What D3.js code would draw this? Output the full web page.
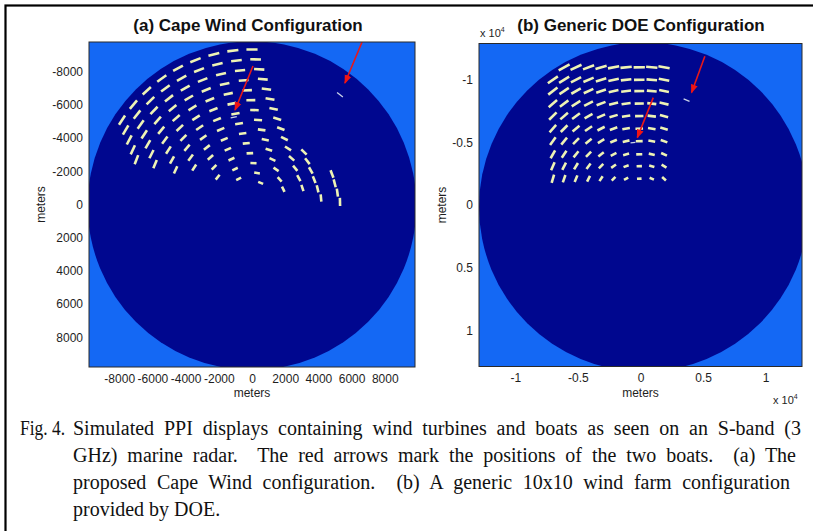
<!DOCTYPE html>
<html>
<head>
<meta charset="utf-8">
<script src="https://cdn.jsdelivr.net/npm/d3@7/dist/d3.min.js"></script>
<style>
  body { margin: 0; background: #fff; }
  svg { display: block; }
  .tick text { font-family: Arial, "Liberation Sans", sans-serif; font-size: 12px; fill: #1e1e1e; }
  .lbl { font-family: Arial, "Liberation Sans", sans-serif; font-size: 12px; fill: #1e1e1e; }
  .ttl { font-family: Arial, "Liberation Sans", sans-serif; font-size: 17px; font-weight: bold; fill: #111; }
  .cap { font-family: "Liberation Serif", "Times New Roman", serif; font-size: 20px; fill: #111; white-space: pre; }
</style>
</head>
<body>
<svg id="fig" width="813" height="531"></svg>
<script>
// all positions in meters, radar at the origin (y grows downward like the figure)
let capeTicks = [-8000, -6000, -4000, -2000, 0, 2000, 4000, 6000, 8000];
let capeRange = 9900;
let capeCenter = [0, 70];
let capeTurbines = [
  [-7831,-5085],[-7614,-4489],[-7397,-3893],[-7180,-3297],[-6963,-2701],
  [-7142,-6014],[-6925,-5418],[-6708,-4822],[-6491,-4226],[-6274,-3630],[-6057,-3034],[-5840,-2438],
  [-6338,-6856],[-6121,-6260],[-5904,-5664],[-5687,-5068],[-5470,-4472],[-5253,-3876],[-5036,-3280],[-4819,-2684],[-4602,-2088],
  [-5435,-7592],[-5218,-6996],[-5001,-6400],[-4784,-5804],[-4567,-5208],[-4350,-4612],[-4133,-4016],[-3916,-3420],[-3699,-2824],[-3482,-2228],
  [-4456,-8205],[-4239,-7609],[-4022,-7013],[-3805,-6417],[-3588,-5821],[-3371,-5225],[-3154,-4629],[-2937,-4033],[-2720,-3437],[-2503,-2841],[-2286,-2245],[-2069,-1649],
  [-3407,-8694],[-3190,-8098],[-2973,-7502],[-2756,-6906],[-2539,-6310],[-2322,-5714],[-2105,-5118],[-1888,-4522],[-1671,-3926],[-1454,-3330],[-1237,-2734],[-1020,-2138],[-803,-1542],
  [-2299,-9049],[-2082,-8453],[-1865,-7857],[-1648,-7261],[-1431,-6665],[-1214,-6069],[-997,-5473],[-780,-4877],[-563,-4281],[-346,-3685],[-129,-3089],[88,-2493],[305,-1897],[522,-1301],
  [-1154,-9265],[-937,-8669],[-720,-8073],[-503,-7477],[-286,-6881],[-69,-6285],[148,-5689],[365,-5093],[582,-4497],[799,-3901],[1016,-3305],[1233,-2709],[1450,-2113],[1667,-1517],[1884,-921],
  [0,-9337],[217,-8741],[434,-8145],[651,-7549],[868,-6953],[1085,-6357],[1302,-5761],[1519,-5165],[1736,-4569],[1953,-3973],[2170,-3377],[2387,-2781],[2604,-2185],[2821,-1589],[3038,-993],
  [3132,-3163],[3337,-2608],[3542,-2054],[3747,-1500],[3952,-946],[4157,-392],
  [4819,-1837],[4982,-1277],[5144,-717],[5301,-151]
];
let capeBoats = [[5300, -6610], [-1100, -5260]];
let capeArrows = [[[60, -8340], [-1020, -5690]], [[6630, -9790], [5600, -7320]]];

let doeTicks = [-10000, -5000, 0, 5000, 10000];
let doeRange = 13150;
let doeCenter = [250, 150];
let doeColsX = [-7000, -6100, -5150, -4150, -3150, -2150, -1150, -100, 900, 1880];
let doeRowsY = [-11000, -10000, -9100, -8100, -7100, -6100, -5100, -4050, -3100, -2100];
let doeBoats = [[3680, -8380], [-600, -4980]];
let doeArrows = [[[5140, -11880], [4080, -8980]], [[1020, -8580], [-255, -5380]]];

let captionLines = [
  "Simulated PPI displays containing wind turbines and boats as seen on an S-band (3",
  "GHz) marine radar.  The red arrows mark the positions of the two boats.  (a) The",
  "proposed Cape Wind configuration.  (b) A generic 10x10 wind farm configuration",
  "provided by DOE."
];
let captionRight = [801, 796, 790, null];

let svg = d3.select("#fig");
let darkBlue = "#00078f";
let lightBlue = "#1468f4";
let echo = "#eef3b4";

let defs = svg.append("defs");
defs.append("marker")
  .attr("id", "head")
  .attr("markerUnits", "userSpaceOnUse")
  .attr("markerWidth", 10).attr("markerHeight", 8)
  .attr("refX", 8).attr("refY", 4)
  .attr("orient", "auto")
  .append("path")
  .attr("d", "M0,0.5 L9,4 L0,7.5 Z")
  .attr("fill", "#f01414");

// outer frame of the figure (right/bottom run off the page)
svg.append("rect")
  .attr("x", 5.5).attr("y", 5.5)
  .attr("width", 900).attr("height", 700)
  .attr("fill", "none").attr("stroke", "#000").attr("stroke-width", 2.2);

var drawPanel = function(p) {
  let x = d3.scaleLinear().domain(p.domX).range([p.left, p.right]);
  let y = d3.scaleLinear().domain(p.domY).range([p.top, p.bottom]);
  let g = svg.append("g").attr("id", p.id);

  let clipBox = defs.append("clipPath").attr("id", p.id + "-box");
  clipBox.append("rect")
    .attr("x", p.left).attr("y", p.top)
    .attr("width", p.right - p.left).attr("height", p.bottom - p.top);
  let clipDisk = defs.append("clipPath").attr("id", p.id + "-disk");
  clipDisk.append("ellipse")
    .attr("cx", x(p.center[0])).attr("cy", y(p.center[1]))
    .attr("rx", x(p.range) - x(0)).attr("ry", y(p.range) - y(0));

  let plot = g.append("g").attr("clip-path", "url(#" + p.id + "-box)");
  plot.append("rect")
    .attr("x", p.left).attr("y", p.top)
    .attr("width", p.right - p.left).attr("height", p.bottom - p.top)
    .attr("fill", lightBlue);
  plot.append("ellipse")
    .attr("cx", x(p.center[0])).attr("cy", y(p.center[1]))
    .attr("rx", x(p.range) - x(0)).attr("ry", y(p.range) - y(0))
    .attr("fill", darkBlue);

  // each return is smeared along azimuth: short segment tangent to the range ring
  let seg = function(d, grow) {
    let th = Math.atan2(d[1], d[0]);
    let r = Math.hypot(d[0], d[1]);
    let hl = p.half[0] + p.half[1] * r * grow;
    let tx = -Math.sin(th), ty = Math.cos(th);
    return [[x(d[0] - hl * tx), y(d[1] - hl * ty)], [x(d[0] + hl * tx), y(d[1] + hl * ty)]];
  };

  let echoes = plot.append("g").attr("clip-path", "url(#" + p.id + "-disk)");
  echoes.selectAll("line.turbine")
    .data(p.turbines)
    .enter().append("line")
    .attr("class", "turbine")
    .attr("x1", d => seg(d, 1)[0][0]).attr("y1", d => seg(d, 1)[0][1])
    .attr("x2", d => seg(d, 1)[1][0]).attr("y2", d => seg(d, 1)[1][1])
    .attr("stroke", echo).attr("stroke-width", 2.6);

  echoes.selectAll("line.boat")
    .data(p.boats)
    .enter().append("line")
    .attr("class", "boat")
    .attr("x1", d => seg(d, 0.5)[0][0]).attr("y1", d => seg(d, 0.5)[0][1])
    .attr("x2", d => seg(d, 0.5)[1][0]).attr("y2", d => seg(d, 0.5)[1][1])
    .attr("stroke", "#c9d3e8").attr("stroke-width", 1.3);

  plot.selectAll("line.arrow")
    .data(p.arrows)
    .enter().append("line")
    .attr("class", "arrow")
    .attr("x1", d => x(d[0][0])).attr("y1", d => y(d[0][1]))
    .attr("x2", d => x(d[1][0])).attr("y2", d => y(d[1][1]))
    .attr("stroke", "#e81818").attr("stroke-width", 1.6)
    .attr("marker-end", "url(#head)");

  g.append("rect")
    .attr("x", p.left).attr("y", p.top)
    .attr("width", p.right - p.left).attr("height", p.bottom - p.top)
    .attr("fill", "none").attr("stroke", "#2a2a2a").attr("stroke-width", 1);

  let xAxis = d3.axisBottom(x).tickValues(p.ticks).tickFormat(p.fmt).tickSize(0).tickPadding(7);
  let yAxis = d3.axisLeft(y).tickValues(p.ticks).tickFormat(p.fmt).tickSize(0).tickPadding(6);
  let xg = g.append("g").attr("transform", "translate(0," + p.bottom + ")").call(xAxis);
  let yg = g.append("g").attr("transform", "translate(" + p.left + ",0)").call(yAxis);
  xg.select(".domain").remove();
  yg.select(".domain").remove();

  g.append("text").attr("class", "ttl")
    .attr("x", p.titleX).attr("y", 31)
    .attr("text-anchor", "middle")
    .text(p.title);

  g.append("text").attr("class", "lbl")
    .attr("x", x(0)).attr("y", 397)
    .attr("text-anchor", "middle")
    .text("meters");

  g.append("text").attr("class", "lbl")
    .attr("transform", "translate(" + p.yLabelX + "," + y(0) + ") rotate(-90)")
    .attr("text-anchor", "middle")
    .attr("dy", "0.35em")
    .text("meters");

  return g;
};

drawPanel({
  id: "capeA", left: 89, right: 415, top: 42, bottom: 367,
  domX: [-9820, 9820], domY: [-9790, 9790],
  ticks: capeTicks, fmt: d => String(d),
  range: capeRange, center: capeCenter,
  half: [130, 0.022],
  turbines: capeTurbines, boats: capeBoats, arrows: capeArrows,
  title: "(a) Cape Wind Configuration", titleX: 248, yLabelX: 41
});

let doeTurbines = [];
doeRowsY.forEach(function(ry) {
  doeColsX.forEach(function(cx) { doeTurbines.push([cx, ry]); });
});

let gb = drawPanel({
  id: "doeB", left: 479, right: 802, top: 43.5, bottom: 366.5,
  domX: [-12900, 12900], domY: [-12900, 12900],
  ticks: doeTicks, fmt: d => String(d / 1e4),
  range: doeRange, center: doeCenter,
  half: [120, 0.03],
  turbines: doeTurbines, boats: doeBoats, arrows: doeArrows,
  title: "(b) Generic DOE Configuration", titleX: 641, yLabelX: 442
});

// axis multipliers
let mult = function(xp, yp) {
  let t = gb.append("text").attr("class", "lbl").attr("x", xp).attr("y", yp).style("font-size", "11px");
  t.append("tspan").text("x 10");
  t.append("tspan").attr("dy", -5).style("font-size", "7px").text("4");
};
mult(480, 37);
mult(773, 404);

// caption, justified like the printed page
let cap = svg.append("g");
cap.append("text").attr("class", "cap")
  .attr("x", 20).attr("y", 435)
  .attr("textLength", 45)
  .attr("lengthAdjust", "spacingAndGlyphs")
  .text("Fig. 4.");

cap.selectAll("text.line")
  .data(captionLines)
  .enter().append("text")
  .attr("class", "cap line")
  .attr("x", 73)
  .attr("y", (d, i) => 435 + i * 27)
  .text(d => d)
  .each(function(d, i) {
    if (captionRight[i] == null) return;
    let w = this.getComputedTextLength();
    let gaps = d.split(" ").length - 1;
    let extra = Math.max(0, (captionRight[i] - 73 - w) / gaps);
    d3.select(this).style("word-spacing", extra + "px");
  });
</script>
</body>
</html>
